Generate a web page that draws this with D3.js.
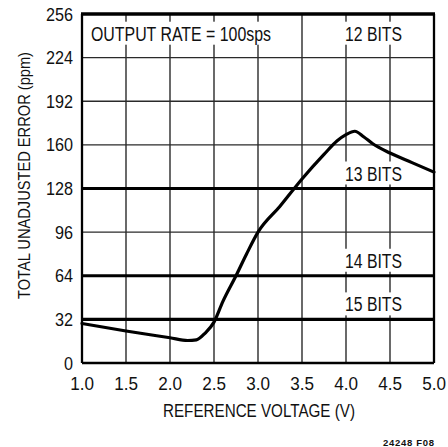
<!DOCTYPE html>
<html>
<head>
<meta charset="utf-8">
<script src="https://cdn.jsdelivr.net/npm/d3@7"></script>
<style>
  html, body { margin: 0; padding: 0; background: #fff; }
  svg { display: block; }
  text { font-family: "Liberation Sans Narrow", "Arial Narrow", "Liberation Sans", sans-serif; fill: #111; }
</style>
</head>
<body>
<svg id="chart" width="448" height="447"></svg>
<script>
// ---- data ----
const refVoltage = [1.0, 1.5, 2.0, 2.2, 2.3, 2.4, 2.5, 2.6, 2.75, 2.87, 3.0, 3.25, 3.5, 3.75, 3.9, 4.0, 4.1, 4.2, 4.3, 4.5, 4.75, 5.0];
const errorPpm   = [29, 23.5, 18.5, 16.5, 17, 22, 30, 45, 64, 80, 96, 115, 135, 153, 163, 167.5, 170, 166, 161, 154, 147, 140];
const xTicks = [1.0, 1.5, 2.0, 2.5, 3.0, 3.5, 4.0, 4.5, 5.0];
const yTicks = [0, 32, 64, 96, 128, 160, 192, 224, 256];
const bitLevels = [128, 64, 32];
const bitLabels = ["12 BITS", "13 BITS", "14 BITS", "15 BITS"];
const bitLabelValues = [256, 128, 64, 32];
const noteText = "OUTPUT RATE = 100sps";
const xTitle = "REFERENCE VOLTAGE (V)";
const yTitle = "TOTAL UNADJUSTED ERROR (ppm)";
const figId = "24248 F08";

// ---- layout ----
const svg = d3.select("#chart");
const L = 82, R = 434, T = 14, B = 363;
const x = d3.scaleLinear().domain([1, 5]).range([L, R]);
const y = d3.scaleLinear().domain([0, 256]).range([B, T]);

// grid
const grid = svg.append("g");
grid.selectAll("line.v").data(xTicks.slice(1, -1)).join("line")
  .attr("x1", d => x(d)).attr("x2", d => x(d)).attr("y1", T).attr("y2", B)
  .attr("stroke", "#2a2a2a").attr("stroke-width", 1.4);
grid.selectAll("line.h").data(yTicks.slice(1, -1).filter(d => !bitLevels.includes(d))).join("line")
  .attr("x1", L).attr("x2", R).attr("y1", d => y(d)).attr("y2", d => y(d))
  .attr("stroke", "#2a2a2a").attr("stroke-width", 1.4);

// text labels inside plot with white background
const labelsG = svg.append("g");
function boxedText(str, xc, baseline, anchor, len) {
  const t = labelsG.append("text")
    .attr("x", xc).attr("y", baseline)
    .attr("text-anchor", anchor)
    .attr("font-size", 20)
    .attr("textLength", len).attr("lengthAdjust", "spacingAndGlyphs")
    .text(str);
  const bb = t.node().getBBox();
  labelsG.insert("rect", "text")
    .attr("x", bb.x - 3).attr("y", bb.y - 1)
    .attr("width", bb.width + 6).attr("height", bb.height + 1)
    .attr("fill", "#fff");
}
boxedText(noteText, 91, 40.7, "start", 180);
bitLabelValues.forEach((v, i) => {
  boxedText(bitLabels[i], x(4.3125), v === 256 ? 40.7 : y(v) - 8, "middle", 57);
});

// thick bit-level lines
svg.append("g").selectAll("line").data(bitLevels).join("line")
  .attr("x1", L).attr("x2", R).attr("y1", d => y(d)).attr("y2", d => y(d))
  .attr("stroke", "#000").attr("stroke-width", 3.2);

// frame
svg.append("line").attr("x1", L).attr("x2", L).attr("y1", T).attr("y2", B).attr("stroke", "#000").attr("stroke-width", 2.3);
svg.append("line").attr("x1", L).attr("x2", R).attr("y1", B).attr("y2", B).attr("stroke", "#000").attr("stroke-width", 2.3);
svg.append("line").attr("x1", R).attr("x2", R).attr("y1", T).attr("y2", B).attr("stroke", "#000").attr("stroke-width", 2.3);
svg.append("line").attr("x1", L - 1).attr("x2", R + 1).attr("y1", T).attr("y2", T).attr("stroke", "#000").attr("stroke-width", 3.6);

// curve
const line = d3.line().x((d, i) => x(refVoltage[i])).y(d => y(d)).curve(d3.curveMonotoneX);
svg.append("path").datum(errorPpm).attr("d", line)
  .attr("fill", "none").attr("stroke", "#000").attr("stroke-width", 3.2)
  .attr("stroke-linejoin", "round").attr("stroke-linecap", "round");

// axes tick labels (slightly condensed to mimic the original typeface)
svg.append("g").selectAll("text").data(yTicks).join("text")
  .attr("transform", d => `translate(73,${y(d) + 6.5}) scale(0.9,1)`)
  .attr("text-anchor", "end").attr("font-size", 18)
  .text(d => d);
svg.append("g").selectAll("text").data(xTicks).join("text")
  .attr("transform", d => `translate(${x(d)},389.5) scale(0.9,1)`)
  .attr("text-anchor", "middle").attr("font-size", 19)
  .text(d => d.toFixed(1));

// titles
svg.append("text").attr("x", 259).attr("y", 417)
  .attr("text-anchor", "middle").attr("font-size", 18.5)
  .attr("textLength", 192).attr("lengthAdjust", "spacingAndGlyphs")
  .text(xTitle);
svg.append("text")
  .attr("transform", "translate(29.5,175.5) rotate(-90)")
  .attr("text-anchor", "middle").attr("font-size", 17)
  .attr("textLength", 247).attr("lengthAdjust", "spacingAndGlyphs")
  .text(yTitle);
svg.append("text").attr("x", 434).attr("y", 445.5)
  .attr("text-anchor", "end").attr("font-size", 9.5).attr("font-weight", "bold")
  .attr("font-family", "Liberation Sans, Arial, sans-serif")
  .attr("textLength", 51).attr("lengthAdjust", "spacing")
  .text(figId);
</script>
</body>
</html>
